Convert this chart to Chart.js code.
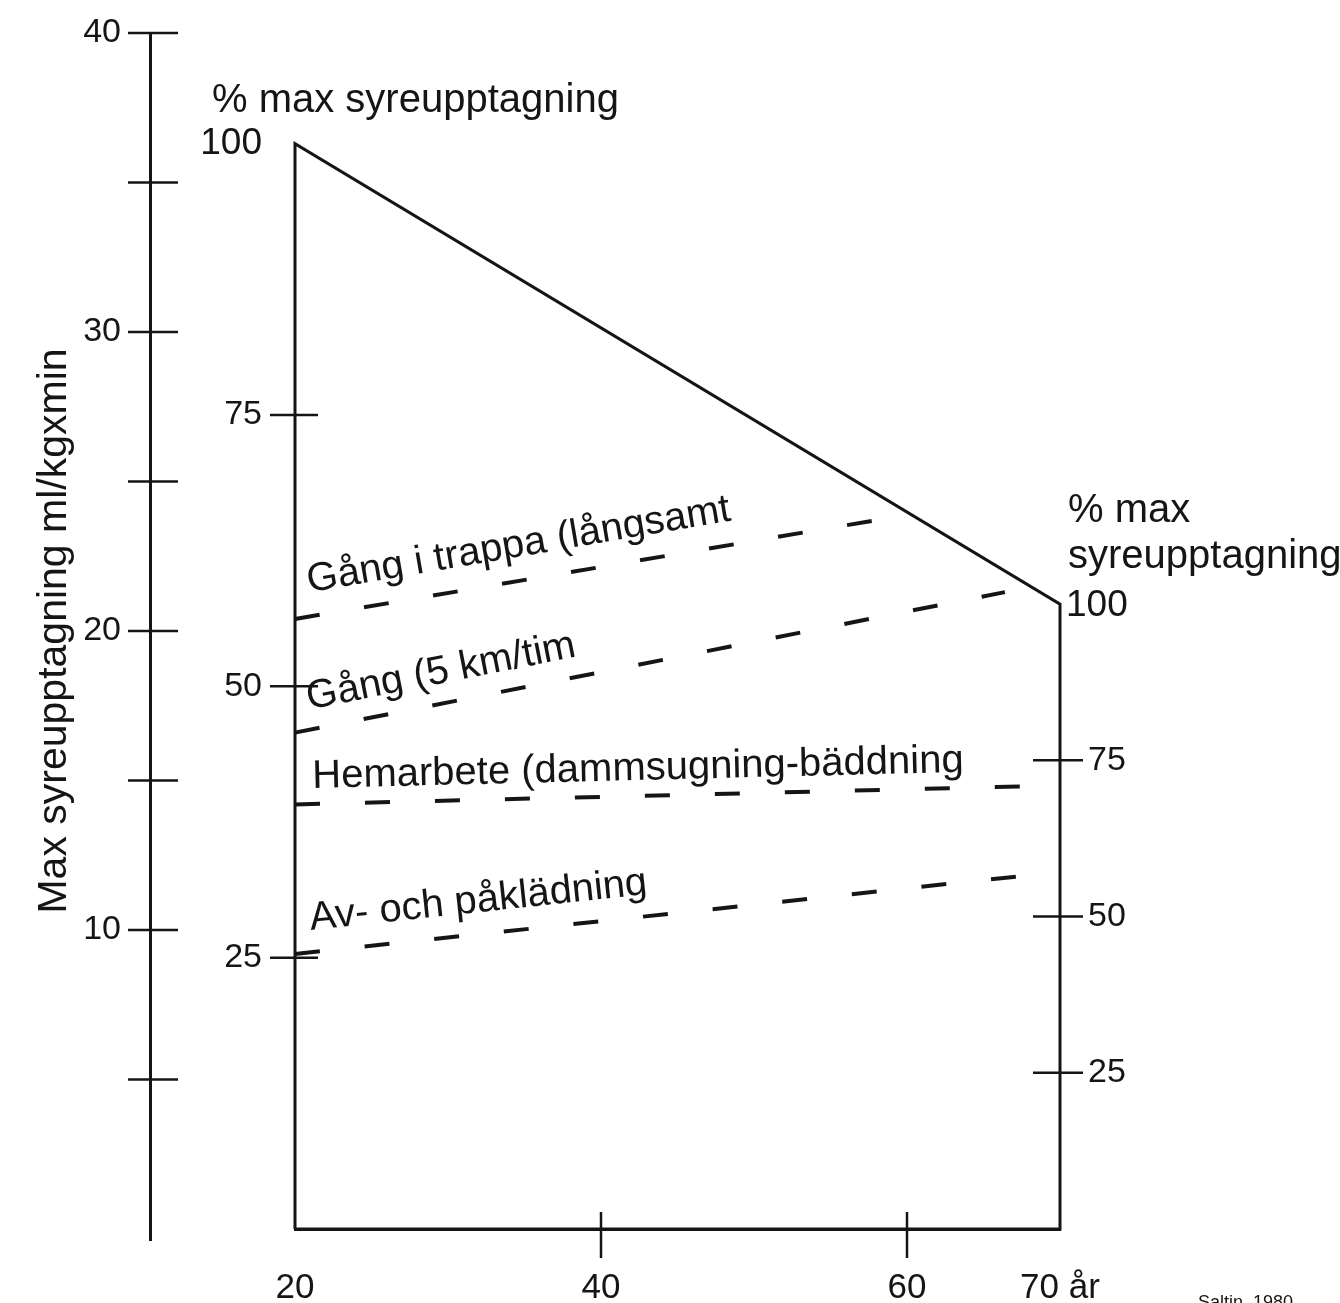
<!DOCTYPE html>
<html>
<head>
<meta charset="utf-8">
<script src="https://cdn.jsdelivr.net/npm/chart.js"></script>
<style>
  html, body { margin: 0; padding: 0; background: #fff; }
  canvas { display: block; }
</style>
</head>
<body>
<canvas id="saltin" width="1340" height="1303"></canvas>
<script>
// max oxygen uptake (ml/kg x min) at age 20 and 70
const ages = [20, 70];
const maxUptake = [36.3, 20.9];

// activities, cost in ml/kg x min at start and end of the dashed line
const activityNames = ['Gång i trappa (långsamt', 'Gång (5 km/tim', 'Hemarbete (dammsugning-bäddning', 'Av- och påklädning'];
const activityFromAge = [20, 20, 20, 20];
const activityToAge = [57.9, 66.4, 67.4, 67.4];
const activityFrom = [20.4, 16.6, 14.2, 9.2];
const activityTo = [23.7, 21.3, 14.8, 11.8];
const labelOffset = [24, 20, 16, 22];

const ageTicks = [20, 40, 60, 70];
const pctTicks = [25, 50, 75, 100];

const INK = '#151515';
const TXT = "'Liberation Sans', Arial, sans-serif";
const NUM = "'Liberation Sans Narrow', 'Liberation Sans', Arial, sans-serif";

const datasets = [];
datasets.push({
  label: 'max',
  data: [
    { x: ages[0], y: 0 },
    { x: ages[0], y: maxUptake[0] },
    { x: ages[1], y: maxUptake[1] },
    { x: ages[1], y: 0 },
    { x: ages[0], y: 0 }
  ],
  borderColor: INK,
  borderWidth: 3,
  borderJoinStyle: 'miter',
  pointRadius: 0,
  tension: 0,
  clip: false
});
activityNames.forEach((name, i) => {
  datasets.push({
    label: name,
    data: [
      { x: activityFromAge[i], y: activityFrom[i] },
      { x: activityToAge[i], y: activityTo[i] }
    ],
    borderColor: INK,
    borderWidth: 4,
    borderDash: [25, 45],
    pointRadius: 0,
    tension: 0,
    clip: false
  });
});

const pctFont = (c) => (c.tick && c.tick.value === 100) ? { family: TXT, size: 37 } : { family: NUM, size: 34 };

// keep the chart area where the picture has it, whatever the labels need
const fixWidth = (w) => (s) => { s.width = w; s.paddingTop = 0; s.paddingBottom = 0; };

const decor = {
  id: 'decor',
  afterDraw(chart) {
    const { ctx, chartArea: a } = chart;
    const { x, y, pl, pr } = chart.scales;
    ctx.save();
    ctx.strokeStyle = INK;
    ctx.fillStyle = INK;
    ctx.lineWidth = 2.5;
    const hline = (x1, x2, yy) => { ctx.beginPath(); ctx.moveTo(x1, yy); ctx.lineTo(x2, yy); ctx.stroke(); };
    const vline = (xx, y1, y2) => { ctx.beginPath(); ctx.moveTo(xx, y1); ctx.lineTo(xx, y2); ctx.stroke(); };

    // tick marks crossing the axes
    y.ticks.forEach(t => { if (t.value > 0) hline(y.right - 22, y.right + 28, y.getPixelForValue(t.value)); });
    pl.ticks.forEach(t => { if (t.value < 100) hline(a.left - 25, a.left + 23, pl.getPixelForValue(t.value)); });
    pr.ticks.forEach(t => { if (t.value < 100) hline(a.right - 27, a.right + 23, pr.getPixelForValue(t.value)); });
    x.ticks.forEach(t => { if (t.value > 20 && t.value < 70) vline(x.getPixelForValue(t.value), a.bottom - 17, a.bottom + 29); });
    ctx.lineWidth = 3;
    vline(y.right + 0.5, a.bottom - 2, a.bottom + 12);

    // axis headers
    ctx.font = '40px ' + TXT;
    ctx.textAlign = 'left';
    ctx.textBaseline = 'alphabetic';
    const top100 = pl.getPixelForValue(100);
    ctx.fillText('% max syreupptagning', a.left - 83, top100 - 32);
    const right100 = pr.getPixelForValue(100);
    ctx.fillText('% max', a.right + 8, right100 - 82);
    ctx.fillText('syreupptagning', a.right + 8, right100 - 36);
    ctx.font = '37px ' + TXT;
    ctx.textBaseline = 'middle';
    ctx.fillText('100', a.right + 6, right100 + 2);
    ctx.textBaseline = 'alphabetic';

    // activity labels along the dashed lines
    ctx.font = '40px ' + TXT;
    activityNames.forEach((name, i) => {
      const x0 = x.getPixelForValue(activityFromAge[i]);
      const y0 = y.getPixelForValue(activityFrom[i]);
      const x1 = x.getPixelForValue(activityToAge[i]);
      const y1 = y.getPixelForValue(activityTo[i]);
      const ang = Math.atan2(y1 - y0, x1 - x0);
      ctx.save();
      ctx.translate(x0 + 18, y0 + 18 * (y1 - y0) / (x1 - x0));
      ctx.rotate(ang);
      ctx.fillText(name, 0, -labelOffset[i]);
      ctx.restore();
    });

    // source
    ctx.font = '18px ' + TXT;
    ctx.fillText('Saltin, 1980', 1198, 1308);
    ctx.restore();
  }
};

new Chart(document.getElementById('saltin'), {
  type: 'line',
  data: { datasets },
  options: {
    responsive: false,
    devicePixelRatio: 1,
    animation: false,
    events: [],
    layout: { padding: { top: 33, left: 0, right: 0, bottom: 0 } },
    plugins: { legend: { display: false }, tooltip: { enabled: false } },
    scales: {
      x: {
        type: 'linear',
        position: 'bottom',
        min: 20,
        max: 70,
        afterBuildTicks: (s) => { s.ticks = ageTicks.map(v => ({ value: v })); },
        afterFit: (s) => { s.height = 74; s.paddingLeft = 0; s.paddingRight = 0; },
        grid: { display: false, drawTicks: false },
        border: { display: true, color: INK, width: 3 },
        ticks: {
          color: INK,
          padding: 38,
          maxRotation: 0,
          font: { family: NUM, size: 35 },
          callback: (v) => v === 70 ? '70 år' : String(v)
        }
      },
      y: {
        type: 'linear',
        position: 'left',
        weight: 1,
        min: 0,
        max: 40,
        afterFit: fixWidth(150),
        grid: { display: false, drawTicks: false },
        border: { display: true, color: INK, width: 3 },
        title: {
          display: true,
          text: 'Max syreupptagning ml/kgxmin',
          color: INK,
          font: { family: TXT, size: 41, lineHeight: 1 },
          padding: { top: 34, bottom: 0 }
        },
        ticks: {
          stepSize: 5,
          color: INK,
          padding: 29,
          font: { family: NUM, size: 34 },
          callback: (v) => (v > 0 && v % 10 === 0) ? String(v) : ''
        }
      },
      pl: {
        type: 'linear',
        position: 'left',
        weight: 0,
        min: 0,
        max: 100 * 40 / maxUptake[0],
        afterBuildTicks: (s) => { s.ticks = pctTicks.map(v => ({ value: v })); },
        afterFit: fixWidth(145),
        grid: { display: false, drawTicks: false },
        border: { display: false },
        ticks: { color: INK, padding: 33, font: pctFont, callback: (v) => String(v) }
      },
      pr: {
        type: 'linear',
        position: 'right',
        min: 0,
        max: 100 * 40 / maxUptake[1],
        afterBuildTicks: (s) => { s.ticks = pctTicks.map(v => ({ value: v })); },
        afterFit: fixWidth(280),
        grid: { display: false, drawTicks: false },
        border: { display: false },
        ticks: { color: INK, padding: 28, font: pctFont, callback: (v) => v === 100 ? '' : String(v) }
      }
    }
  },
  plugins: [decor]
});
</script>
</body>
</html>
